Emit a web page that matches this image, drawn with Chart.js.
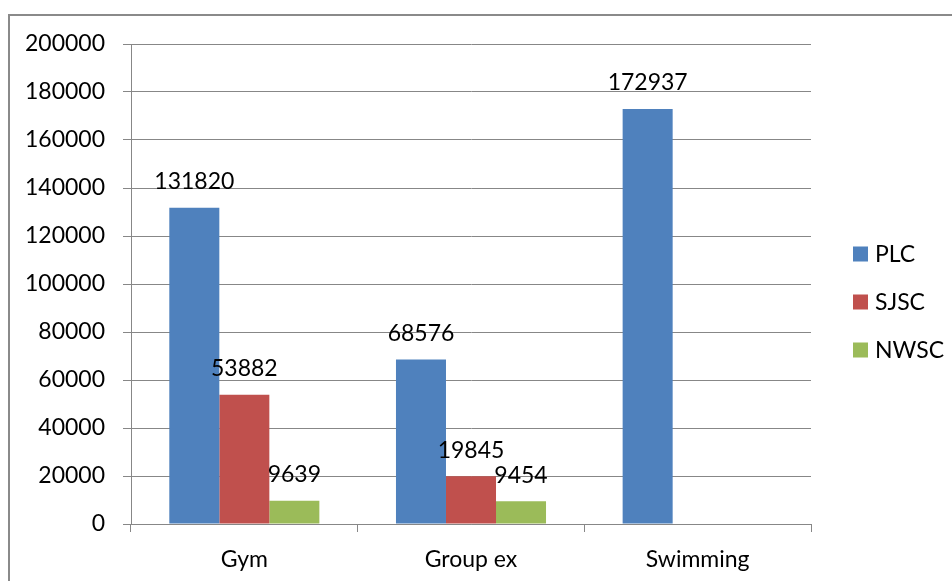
<!DOCTYPE html>
<html>
<head>
<meta charset="utf-8">
<script src="https://cdn.jsdelivr.net/npm/chart.js@4"></script>
<style>
  html, body { margin: 0; padding: 0; background: #fff; overflow: hidden; }
  #frame {
    position: absolute; left: 8px; top: 14px; width: 1000px; height: 1000px;
    border-left: 2px solid #8a8a8a; border-top: 2px solid #8a8a8a;
  }
  #wrap { position: absolute; left: 0; top: 0; width: 952px; height: 581px; }
</style>
</head>
<body>
<div id="frame"></div>
<div id="wrap"><canvas id="myChart" width="952" height="581"></canvas></div>
<script>
const categories = ['Gym', 'Group ex', 'Swimming']
const plc = [131820, 68576, 172937]
const sjsc = [53882, 19845, null]
const nwsc = [9639, 9454, null]
const yTicks = [0, 20000, 40000, 60000, 80000, 100000, 120000, 140000, 160000, 180000, 200000]

const FONT = 'Lato, "Noto Sans", sans-serif'
const FSIZE = 23
const GRID = '#878787'

// value labels above each bar
const barLabels = {
  id: 'barLabels',
  afterDatasetsDraw(chart) {
    const ctx = chart.ctx
    ctx.save()
    ctx.font = FSIZE + 'px ' + FONT
    ctx.fillStyle = '#000'
    ctx.textAlign = 'center'
    ctx.textBaseline = 'middle'
    chart.data.datasets.forEach((ds, i) => {
      chart.getDatasetMeta(i).data.forEach((bar, j) => {
        const v = ds.data[j]
        if (v == null) return
        ctx.fillText(String(v), bar.x, bar.y - 26)
      })
    })
    ctx.restore()
  }
}

// legend on the right, square swatches
const sideLegend = {
  id: 'sideLegend',
  afterDraw(chart) {
    const ctx = chart.ctx
    ctx.save()
    ctx.font = FSIZE + 'px ' + FONT
    ctx.textAlign = 'left'
    ctx.textBaseline = 'middle'
    chart.data.datasets.forEach((ds, i) => {
      const cy = 254 + i * 48
      ctx.fillStyle = ds.backgroundColor
      ctx.fillRect(853, cy - 7.5, 15, 15)
      ctx.fillStyle = '#000'
      ctx.fillText(ds.label, 875, cy + 1)
    })
    ctx.restore()
  }
}

const ctx = document.getElementById('myChart').getContext('2d')
const myChart = new Chart(ctx, {
  type: 'bar',
  data: {
    labels: categories,
    datasets: [
      { label: 'PLC', data: plc, backgroundColor: '#4F81BD' },
      { label: 'SJSC', data: sjsc, backgroundColor: '#C0504D' },
      { label: 'NWSC', data: nwsc, backgroundColor: '#9BBB59' }
    ]
  },
  options: {
    responsive: false,
    animation: false,
    events: [],
    categoryPercentage: 0.662,
    barPercentage: 1.0,
    layout: { padding: { top: 44, right: 141, left: 0, bottom: 0 } },
    plugins: {
      legend: { display: false },
      tooltip: { enabled: false }
    },
    scales: {
      x: {
        offset: true,
        grid: { offset: true, drawOnChartArea: false, color: GRID, tickLength: 8 },
        border: { color: GRID, width: 1 },
        ticks: { color: '#000', font: { family: FONT, size: FSIZE }, padding: 14 },
        afterFit(scale) { scale.height = 57 }
      },
      y: {
        min: 0,
        max: 200000,
        afterBuildTicks(scale) { scale.ticks = yTicks.map(v => ({ value: v })) },
        grid: { color: GRID, tickLength: 8 },
        border: { color: GRID, width: 1 },
        ticks: {
          color: '#000',
          font: { family: FONT, size: FSIZE },
          padding: 18,
          callback: v => String(v)
        },
        afterFit(scale) { scale.width = 131 }
      }
    }
  },
  plugins: [barLabels, sideLegend]
})
</script>
</body>
</html>
